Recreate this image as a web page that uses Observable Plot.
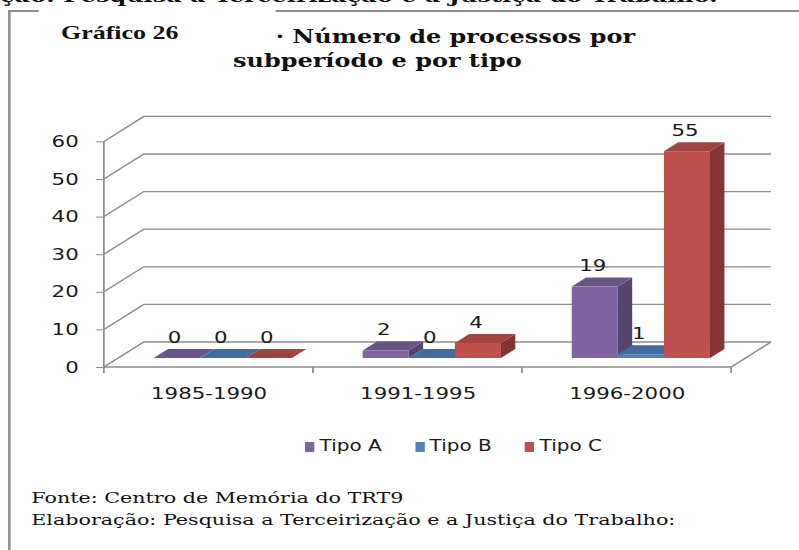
<!DOCTYPE html>
<html>
<head>
<meta charset="utf-8">
<script src="https://cdn.jsdelivr.net/npm/d3@7"></script>
<script src="https://cdn.jsdelivr.net/npm/@observablehq/plot@0.6"></script>
<style>
  html, body { margin: 0; padding: 0; background: #fff; overflow: hidden; width: 799px; height: 550px; }
  #stage { position: relative; width: 600px; height: 550px; transform: scaleX(1.331667); transform-origin: 0 0; }
  .abs { position: absolute; white-space: nowrap; }
  #cut { left: 0; top: -13.5px; font: bold 18px/1 "DejaVu Serif"; color: #111; }
  #bleft { left: 6px; top: 10px; width: 1.6px; height: 540px; background: #8f8f8f; }
  #btop1 { left: 6px; top: 10px; width: 23px; height: 2px; background: #8f8f8f; }
  #btop2 { left: 206.5px; top: 10px; width: 394px; height: 2px; background: #8f8f8f; }
  #fig { left: 45.8px; top: 22.7px; font: bold 19.5px/1 "Liberation Serif"; color: #111; }
  .title { font: bold 18px/23.4px "DejaVu Serif"; color: #111; }
  #t1 { left: 207px; top: 25.4px; }
  #t2 { left: 175px; top: 48.8px; }
  #chart { left: 0; top: 100px; }
  #legend { left: 229px; top: 437px; height: 18px; font: 15px/18px "DejaVu Sans"; color: #1a1a1a; }
  .item { display: inline-block; width: 82.6px; }
  .sw { display: inline-block; width: 7px; height: 10px; margin-right: 4px; vertical-align: -1px; }
  .foot { left: 23.5px; font: 15.5px/22px "DejaVu Serif"; color: #111; }
  #f1 { top: 486.6px; }
  #f2 { top: 508.6px; }
</style>
</head>
<body>
<div id="stage">
  <div id="cut" class="abs">ção: Pesquisa a Terceirização e a Justiça do Trabalho.</div>
  <div id="bleft" class="abs"></div>
  <div id="btop1" class="abs"></div>
  <div id="btop2" class="abs"></div>
  <div id="fig" class="abs">Gráfico 26</div>
  <div id="t1" class="abs title">· Número de processos por</div>
  <div id="t2" class="abs title">subperíodo e por tipo</div>
  <div id="chart" class="abs"></div>
  <div id="legend" class="abs"></div>
  <div id="f1" class="abs foot">Fonte: Centro de Memória do TRT9</div>
  <div id="f2" class="abs foot">Elaboração: Pesquisa a Terceirização e a Justiça do Trabalho:</div>
</div>
<script>
// ---- data ----
const periods = ["1985-1990", "1991-1995", "1996-2000"];
const tipos = ["Tipo A", "Tipo B", "Tipo C"];
const tipoA = [0, 2, 19];
const tipoB = [0, 0, 1];
const tipoC = [0, 4, 55];
const yTicks = [0, 10, 20, 30, 40, 50, 60];
const colors = ["#8064A2", "#4F81BD", "#C0504D"];

const series = [tipoA, tipoB, tipoC];
const data = periods.flatMap((p, i) => tipos.map((t, j) => ({period: p, tipo: t, value: series[j][i]})));

// ---- 3D look (style constants) ----
const DX = 30, DY = -25;        // full depth offset
const F0 = 0.36, F1 = 0.72;     // bar front / back depth
const GPAD = 0.169, BFRAC = 0.2205;
const GRID = "#8c8c8c";
const TEXT = "#1a1a1a";

function gridRender(index, scales, values, dim) {
  const x0 = dim.marginLeft, x1 = dim.width - dim.marginRight;
  const g = d3.create("svg:g").attr("fill", "none").attr("stroke", GRID).attr("stroke-width", 1.3);
  for (const i of index) {
    const y = values.y[i];
    g.append("path").attr("d", `M${x0},${y}L${x0 + DX},${y + DY}H${x1 + DX}`);
  }
  return g.node();
}

function floorRender(index, scales, values, dim) {
  const x0 = dim.marginLeft, x1 = dim.width - dim.marginRight;
  const y0 = scales.y(0), yTop = scales.y(d3.max(yTicks));
  const g = d3.create("svg:g").attr("fill", "none").attr("stroke", GRID).attr("stroke-width", 1.3);
  g.append("path").attr("d", `M${x0},${yTop}V${y0}H${x1}L${x1 + DX},${y0 + DY}`);
  const edges = periods.map(p => scales.x(p)).concat([x1]);
  for (const e of edges) g.append("path").attr("d", `M${e},${y0}V${y0 + 6}`);
  return g.node();
}

function barRender(index, scales, values, dim) {
  const g = d3.create("svg:g");
  const bw = typeof scales.x.bandwidth === "function" ? scales.x.bandwidth()
    : (dim.width - dim.marginLeft - dim.marginRight) / periods.length;
  const fx = DX * F0, fy = DY * F0, bx = DX * F1, by = DY * F1;
  for (const i of index) {
    const j = tipos.indexOf(data[i].tipo);
    const xl = values.x[i] + bw * (GPAD + BFRAC * j), xr = xl + bw * BFRAC;
    const yT = values.y2[i], yB = values.y1[i];
    const c = d3.color(values.fill[i]);
    const top = c.darker(0.5).formatHex(), side = c.darker(1.1).formatHex();
    g.append("path").attr("fill", side)
      .attr("d", `M${xr + fx},${yT + fy}L${xr + bx},${yT + by}L${xr + bx},${yB + by}L${xr + fx},${yB + fy}Z`);
    g.append("path").attr("fill", top)
      .attr("d", `M${xl + fx},${yT + fy}L${xr + fx},${yT + fy}L${xr + bx},${yT + by}L${xl + bx},${yT + by}Z`);
    g.append("rect").attr("fill", c.formatHex())
      .attr("x", xl + fx).attr("y", yT + fy).attr("width", xr - xl).attr("height", Math.max(0, yB - yT));
  }
  for (const i of index) {
    const j = tipos.indexOf(data[i].tipo);
    const xl = values.x[i] + bw * (GPAD + BFRAC * j), xr = xl + bw * BFRAC;
    g.append("text")
      .attr("x", (xl + xr) / 2 + fx - 1.5)
      .attr("y", values.y2[i] + by - 12)
      .attr("dy", "0.36em")
      .attr("text-anchor", "middle")
      .attr("fill", TEXT)
      .attr("font-size", 16)
      .attr("font-family", "DejaVu Sans")
      .text(data[i].value);
  }
  return g.node();
}

const chart = Plot.plot({
  width: 600,
  height: 310,
  marginTop: 41.4,
  marginBottom: 43,
  marginLeft: 78,
  marginRight: 51,
  style: {fontFamily: "DejaVu Sans", background: "transparent", overflow: "visible", color: TEXT},
  x: {type: "band", domain: periods, padding: 0, round: false, label: null},
  y: {domain: [0, 60], label: null},
  color: {domain: tipos, range: colors},
  marks: [
    Plot.ruleY(yTicks, {y: d => d, render: gridRender}),
    Plot.ruleY([0], {y: d => d, render: floorRender}),
    Plot.axisY(yTicks, {tickSize: 6, tickPadding: 13.4, stroke: GRID, fill: TEXT, fontSize: 16, label: null}),
    Plot.axisX(periods, {tickSize: 0, tickPadding: 20.5, fill: TEXT, fontSize: 16, label: null}),
    Plot.barY(data, {x: "period", y1: () => 0, y2: "value", fill: "tipo", render: barRender})
  ]
});
document.getElementById("chart").appendChild(chart);

const legend = d3.select("#legend");
tipos.forEach((t, j) => {
  const it = legend.append("span").attr("class", "item");
  it.append("span").attr("class", "sw").style("background", colors[j]);
  it.append("span").text(t);
});
</script>
</body>
</html>
